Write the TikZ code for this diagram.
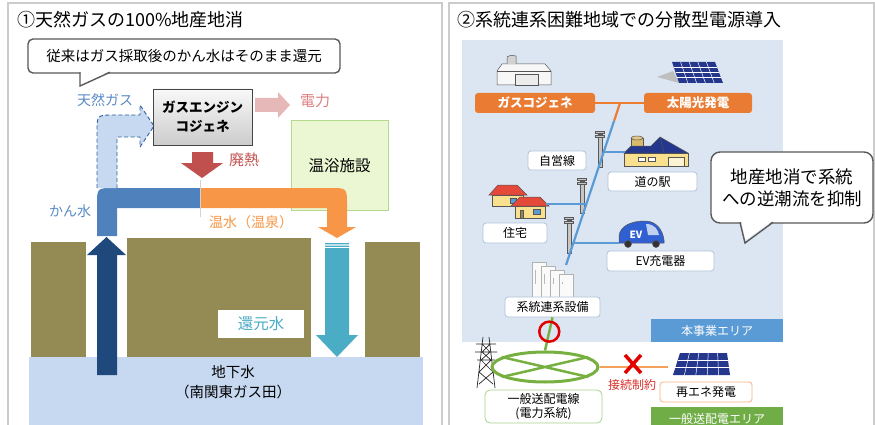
\documentclass[tikz,border=0pt]{standalone}
\usepackage{fontspec}
\setmainfont{Noto Sans CJK JP}
\usetikzlibrary{calc,shapes.geometric}

\definecolor{framegray}{HTML}{CCCCCC}
\definecolor{notegray}{HTML}{595959}
\definecolor{pipeblue}{HTML}{4F81BD}
\definecolor{gasfill}{HTML}{C6D9F1}
\definecolor{gasline}{HTML}{2E5F9E}
\definecolor{gastext}{HTML}{5A8AC6}
\definecolor{hotorange}{HTML}{F79646}
\definecolor{heatred}{HTML}{C0504D}
\definecolor{powerpink}{HTML}{E6B9B8}
\definecolor{powertext}{HTML}{DD8080}
\definecolor{soil}{HTML}{948A54}
\definecolor{aquifer}{HTML}{C6D9F1}
\definecolor{wellnavy}{HTML}{1F497D}
\definecolor{returnteal}{HTML}{4BACC6}
\definecolor{bathfill}{HTML}{EBF6D2}
\definecolor{bathline}{HTML}{B5D98C}
\definecolor{areablue}{HTML}{DCE6F2}
\definecolor{tagblue}{HTML}{5B9BD5}
\definecolor{taggreen}{HTML}{70AD47}
\definecolor{cogenorange}{HTML}{E97B33}
\definecolor{feedorange}{HTML}{ED7D31}
\definecolor{feedlight}{HTML}{F4A15D}
\definecolor{wireblue}{HTML}{5B9BD5}
\definecolor{gridgreen}{HTML}{77B041}
\definecolor{okred}{HTML}{E00000}
\definecolor{cutred}{HTML}{D9302C}
\definecolor{panelnavy}{HTML}{24378C}
\definecolor{labelline}{HTML}{AFC3DA}
\definecolor{renewline}{HTML}{F4B183}
\definecolor{gridlabel}{HTML}{A9D18E}
\definecolor{roofred}{HTML}{E5493A}
\definecolor{wallyellow}{HTML}{F8E08E}
\definecolor{tankbeige}{HTML}{D9B96A}
\definecolor{evblue}{HTML}{2F5FD0}
\definecolor{iconline}{HTML}{555555}

\begin{document}
\begin{tikzpicture}[
    x=1pt, y=-1pt,   % page units, y counted downward
    panel/.style={draw=framegray, line width=1.3pt},
    paneltitle/.style={anchor=west, inner sep=0pt, font=\fontsize{18}{20}\selectfont},
    lbl/.style={inner sep=0pt, font=\fontsize{14}{16}\selectfont},
    namebox/.style={draw=labelline, fill=white, rounded corners=3pt, line width=0.8pt,
        inner sep=0pt, minimum height=20pt, font=\fontsize{12}{14}\selectfont},
    genbox/.style={fill=cogenorange, rounded corners=3pt, inner sep=0pt, minimum height=20pt,
        text=white, font=\bfseries\fontsize{12.5}{14}\selectfont},
    areatag/.style={inner sep=0pt, minimum width=132pt, minimum height=23pt,
        text=white, font=\fontsize{12}{14}\selectfont},
    wire/.style={draw=wireblue, line width=2.2pt},
    feed/.style={draw=feedorange, line width=2.2pt},
    pole/.style={fill=gray!45, draw=gray!70!black, line width=0.4pt},
    icon/.style={draw=iconline, line width=0.5pt},
  ]
  \useasboundingbox (0,0) rectangle (875,425);

  % ===== Panel 1: gas / hot spring / reinjection =====
  \draw[panel] (8,426) -- (8,3) -- (442,3) -- (442,426);
  \node[paneltitle] (titleL) at (17,20) {①天然ガスの100\%地産地消};

  % note with tail
  \node[draw=notegray, fill=white, rounded corners=5pt, line width=1.4pt,
        minimum width=312pt, minimum height=34pt, inner sep=0pt,
        font=\fontsize{14.5}{16}\selectfont] (note) at (184,56) {従来はガス採取後のかん水はそのまま還元};
  \fill[white] (80.7,71.5) -- (109,71.5) -- (80.7,85) -- cycle;
  \draw[notegray, line width=1.4pt] (80,72.3) -- (80,86) -- (110,72.3);

  % groundwater and soil
  \fill[aquifer] (29,357) rectangle (423,430);
  \node[lbl, align=center, font=\fontsize{14.5}{20}\selectfont] (gw) at (233,382) {地下水\\（南関東ガス田）};
  \foreach \xa/\ya/\xb in {31/242/86, 127/238/311, 365/242/420}
    \fill[soil] (\xa,\ya) rectangle (\xb,357);

  % production well
  \fill[wellnavy] (97,375) -- (97,255) -- (87,255) -- (106.5,237) -- (126,255) -- (117,255) -- (117,375) -- cycle;

  % reinjection well
  \fill[returnteal] (325,243) rectangle (349,244.3) (325,245.6) rectangle (349,246.9);
  \fill[returnteal] (325,248.2) -- (349,248.2) -- (349,335) -- (358,335) -- (337,357) -- (316,335) -- (325,335) -- cycle;
  \node[fill=white, minimum width=86pt, minimum height=28pt, inner sep=0pt, text=returnteal,
        font=\fontsize{15.5}{17}\selectfont] (reinj) at (261,324) {還元水};

  % bath house
  \node[draw=bathline, fill=bathfill, line width=1pt, minimum width=97pt, minimum height=89pt,
        inner sep=0pt, font=\fontsize{15.5}{17}\selectfont] (bath) at (339.5,165.5) {温浴施設};

  % brine pipe and hot water pipe
  \fill[pipeblue] (97,236) -- (97,205) .. controls (97,188) .. (114,188) -- (200,188) -- (200,208) -- (117,208) -- (117,236) -- cycle;
  \fill[hotorange] (200,188) -- (330,188) .. controls (347,188) .. (347,205) -- (347,227) -- (356,227)
    -- (337,238) -- (318,227) -- (327,227) -- (327,208) -- (200,208) -- cycle;
  \draw[gray!35, line width=0.5pt] (200,180) -- (200,217);

  % natural gas branch
  \draw[fill=gasfill, draw=gasline, dash pattern=on 4pt off 2.5pt, line width=0.9pt]
    (97,188) -- (97,132) .. controls (97,115) .. (114,115) -- (140,115) -- (140,105) -- (154,126)
    -- (140,147) -- (140,137) -- (117,137) -- (117,188);

  % engine
  \node[draw=gray!55!black, top color=gray!5, bottom color=gray!40, line width=0.9pt,
        minimum width=99pt, minimum height=56pt, inner sep=0pt, align=center,
        font=\bfseries\fontsize{13.5}{19}\selectfont] (engine) at (202.5,117) {ガスエンジン\\コジェネ};

  % waste heat and power arrows
  \fill[heatred] (192,152) -- (213,152) -- (213,163) -- (223,163) -- (202,178) -- (181,163) -- (192,163) -- cycle;
  \fill[powerpink] (255,98) -- (278,98) -- (278,92) -- (290,105) -- (278,118) -- (278,112) -- (255,112) -- cycle;

  \node[lbl, text=gastext] (gaslbl) at (105,100) {天然ガス};
  \node[lbl, text=powertext, font=\fontsize{15}{17}\selectfont] (powerlbl) at (315,101) {電力};
  \node[lbl, text=heatred, font=\fontsize{15}{17}\selectfont] (heatlbl) at (244,160) {廃熱};
  \node[lbl, text=gastext] (brinelbl) at (70,211) {かん水};
  \node[lbl, text=hotorange] (hotlbl) at (251,222) {温水（温泉）};

  % ===== Panel 2: distributed sources =====
  \draw[panel] (449,426) -- (449,3) -- (874,3) -- (874,426);
  \node[paneltitle] (titleR) at (457,20) {②系統連系困難地域での分散型電源導入};

  \fill[areablue] (462,40) rectangle (783,342);
  \node[areatag, fill=tagblue] (areaown) at (717,330.5) {本事業エリア};
  \node[areatag, fill=taggreen] (areagrid) at (717,418.5) {一般送配電エリア};

  % cogen building
  \filldraw[icon, fill=gray!6] (497,71) -- (502,64) -- (545,64) -- (551,71) -- (551,85) -- (497,85) -- cycle;
  \draw[icon] (497,71) -- (551,71);
  \filldraw[icon, fill=gray!15] (515,74) rectangle (538,85);
  \filldraw[icon, fill=gray!35] (507,64) -- (507,57) .. controls (510,55) .. (516,56) -- (516,64);

  % solar array (upper)
  \fill[gray!50] (657,77) -- (673,71) -- (679,83) -- cycle;
  \fill[panelnavy] (672,62) -- (715,62) -- (723,83) -- (679,83) -- cycle;
  \foreach \t in {0.2,0.4,0.6,0.8}
    \draw[white, line width=0.5pt] (672+43*\t,62) -- (679+44*\t,83);
  \foreach \s in {0.25,0.5,0.75}
    \draw[white, line width=0.5pt] (672+7*\s,62+21*\s) -- (715+8*\s,62+21*\s);

  \node[genbox, minimum width=120pt] (cogen) at (535,103) {ガスコジェネ};
  \node[genbox, minimum width=108pt] (pv) at (698,103) {太陽光発電};

  % roadside station
  \filldraw[icon, fill=tankbeige] (631,138) rectangle (643,150);
  \filldraw[icon, fill=tankbeige!80!white] (637,138) ellipse (6 and 2);
  \filldraw[icon, fill=wallyellow] (624,153) rectangle (688,166);
  \filldraw[icon, fill=panelnavy] (624,153) -- (631,146) -- (651,146) -- (660,137) -- (688,153) -- cycle;
  \draw[icon] (660,137) -- (664,153);
  \filldraw[icon, fill=wallyellow!40!white] (668,157) rectangle (684,166);
  \foreach \wx in {638,648}
    \filldraw[icon, fill=white] (\wx,157) rectangle (\wx+7,161);

  % houses
  \filldraw[icon, fill=wallyellow] (492,195) rectangle (523,206);
  \filldraw[icon, fill=roofred] (489,195) -- (498,185) -- (517,185) -- (527,195) -- cycle;
  \filldraw[icon, fill=tagblue] (510,198) rectangle (516,203);
  \filldraw[icon, fill=wallyellow] (515,206) rectangle (545,218);
  \filldraw[icon, fill=roofred] (511,206) -- (520,197) -- (540,197) -- (549,206) -- cycle;
  \filldraw[icon, fill=tagblue] (533,209) rectangle (540,214);
  \filldraw[icon, fill=wallyellow!60!black] (520,210) rectangle (523,218);

  % EV
  \filldraw[icon, fill=evblue] (619,243) -- (619,236) .. controls (620,226) and (631,221) .. (645,221)
    .. controls (657,221) and (663,231) .. (664,240) -- (664,243) -- cycle;
  \fill[white!70!evblue] (646,224) .. controls (655,224) and (658,230) .. (659,235) -- (648,235) -- cycle;
  \filldraw[icon, fill=black!80] (628,244) circle (3.5) (656,244) circle (3.5);
  \node[text=white, inner sep=0pt, font=\bfseries\fontsize{10}{11}\selectfont] (evtext) at (636,235) {EV};

  % interconnection cabinets, back to front
  \foreach \i in {0,1,2,3} {
    \filldraw[icon, fill=gray!4, draw=gray!60] (532+9*\i,262+4*\i) rectangle (546+9*\i,298);
    \draw[gray!55, line width=0.8pt] (535+9*\i,270+4*\i) -- (535+9*\i,284);
  }

  % utility poles
  \foreach \px/\pt/\pb in {600/131/167, 582/178/213, 569/217/253} {
    \path[pole] (\px-2.2,\pt+3) rectangle (\px+2.2,\pb);
    \path[pole] (\px-4.5,\pt) rectangle (\px+4.5,\pt+2);
    \path[pole] (\px-4.5,\pt+4) rectangle (\px+4.5,\pt+6);
  }

  % private line
  \coordinate (jn) at (620,103);
  \coordinate (feedend) at (566,265);
  \coordinate (tapA) at ($(jn)!0.302!(feedend)$);
  \coordinate (tapB) at ($(jn)!0.623!(feedend)$);
  \coordinate (tapC) at ($(jn)!0.864!(feedend)$);
  \draw[feed] (cogen.east) -- (pv.west);
  \draw[feed] (jn) -- ($(jn)!0.11!(feedend)$);
  \draw[wire] ($(jn)!0.11!(feedend)$) -- (feedend);
  \draw[wire] (tapA) -- ++(21,0);
  \draw[wire] (tapB) -- ++(-40,0);
  \draw[wire] (tapC) -- ++(46,0);

  \node[namebox, minimum width=58pt, minimum height=19pt] (selfline) at (557,160.5) {自営線};
  \node[namebox, minimum width=89pt, minimum height=19pt] (station) at (652.5,181.5) {道の駅};
  \node[namebox, minimum width=64pt] (homes) at (515,233) {住宅};
  \node[namebox, minimum width=107pt] (evlbl) at (660.5,261) {EV充電器};
  \node[namebox, minimum width=95pt] (sysbox) at (552.5,307) {系統連系設備};

  % local consumption note
  \node[draw=notegray, fill=white, rounded corners=9pt, line width=1.4pt, minimum width=162pt,
        minimum height=71pt, inner sep=0pt, align=center,
        font=\fontsize{17.5}{22}\selectfont] (bubble) at (792,187.5) {地産地消で系統\\への逆潮流を抑制};
  \fill[white] (741,221.5) -- (772,221.5) -- (745.5,240) -- cycle;
  \draw[notegray, line width=1.4pt] (740,222.3) -- (745,243) -- (773,222.3);

  % transmission tower
  \draw[black!85, line width=0.7pt] (483,337) -- (477,388) (489,337) -- (495,388)
    (476,344) -- (496,344) (475,352) -- (497,352) (477,360) -- (495,360)
    (482,344) -- (490,352) -- (481,360) -- (493,372) -- (479,384)
    (490,344) -- (482,352) -- (491,360) -- (479,372) -- (493,384);

  % grid ring
  \node[draw=gridgreen, ellipse, line width=3pt, minimum width=106pt, minimum height=30pt, inner sep=0pt] (ring) at (545,367) {};
  \draw[gridgreen, line width=2.5pt] (ring.167) -- (ring.-13) (ring.13) -- (ring.193);
  \draw[gridgreen, line width=2.5pt] (sysbox.south) -- (ring.north);
  \node[circle, draw=okred, line width=2.5pt, minimum size=20pt, inner sep=0pt] (okmark)
    at ($(sysbox.south)!0.43!(ring.north)$) {};

  % solar array (lower)
  \fill[panelnavy] (680,353) -- (727,353) -- (730,375) -- (673,375) -- cycle;
  \foreach \t in {0.2,0.4,0.6,0.8}
    \draw[white, line width=0.5pt] (680+47*\t,353) -- (673+57*\t,375);
  \foreach \s in {0.33,0.66}
    \draw[white, line width=0.5pt] (680-7*\s,353+22*\s) -- (727+3*\s,353+22*\s);

  \coordinate (pvin) at (668,367);
  \coordinate (cut) at (633,364);
  \draw[feedlight, line width=2.2pt] (ring.east) -- (pvin);
  \draw[okred, line width=3.5pt] ($(cut)+(-8,-9)$) -- ($(cut)+(8,9)$) ($(cut)+(8,-9)$) -- ($(cut)+(-8,9)$);
  \node[lbl, text=cutred, font=\fontsize{12}{14}\selectfont] (cutlbl) at (632,385) {接続制約};

  \node[namebox, draw=renewline] (renew) at (706,392) [minimum width=92pt] {再エネ発電};
  \node[namebox, draw=gridlabel, minimum width=117pt, minimum height=33pt, rounded corners=5pt,
        align=center, font=\fontsize{12}{14}\selectfont] (gridlbl) at (543.5,406.5) {一般送配電線\\(電力系統)};

\end{tikzpicture}
\end{document}
